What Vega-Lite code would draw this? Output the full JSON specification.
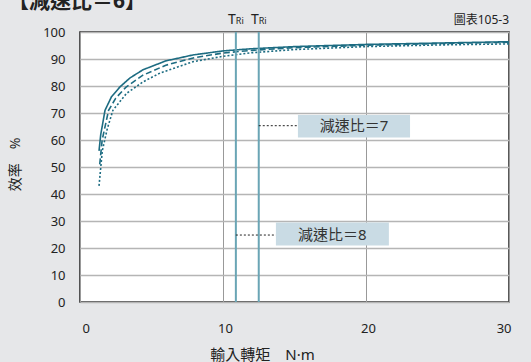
{
  "$schema": "https://vega.github.io/schema/vega-lite/v6.json",
  "width": 429,
  "height": 270,
  "autosize": {"type": "none"},
  "padding": {"left": 80, "top": 32, "right": 22, "bottom": 60},
  "background": "#e6e7e9",
  "config": {
    "font": "Noto Sans, Noto Sans CJK TC",
    "view": {"fill": "white", "stroke": "#222", "strokeWidth": 1.5},
    "axis": {"labelFont": "Noto Sans, Noto Sans CJK TC", "titleFont": "Noto Sans, Noto Sans CJK TC", "labelColor": "#222", "titleColor": "#222", "domain": false, "ticks": false, "labelOverlap": false},
    "axisY": {"grid": true, "gridColor": "#b5b5b5", "gridWidth": 1.5, "labelPadding": 15, "labelFontSize": 13},
    "axisX": {"grid": true, "gridColor": "#999", "gridWidth": 1, "labelPadding": 20, "labelFontSize": 13, "labelOffset": 2}
  },
  "datasets": {
    "curves": [
      {"x": 1.33, "y": 56, "s": "a"}, {"x": 1.45, "y": 62, "s": "a"}, {"x": 1.75, "y": 71, "s": "a"}, {"x": 2.2, "y": 76, "s": "a"}, {"x": 2.8, "y": 79.7, "s": "a"}, {"x": 3.5, "y": 83, "s": "a"}, {"x": 4.4, "y": 86, "s": "a"}, {"x": 6, "y": 89.3, "s": "a"}, {"x": 7.9, "y": 91.5, "s": "a"}, {"x": 10, "y": 93, "s": "a"}, {"x": 12, "y": 93.8, "s": "a"}, {"x": 15, "y": 94.6, "s": "a"}, {"x": 20, "y": 95.4, "s": "a"}, {"x": 25, "y": 95.9, "s": "a"}, {"x": 30, "y": 96.4, "s": "a"},
      {"x": 1.38, "y": 51, "s": "b"}, {"x": 1.55, "y": 60, "s": "b"}, {"x": 2.0, "y": 71, "s": "b"}, {"x": 2.5, "y": 75.5, "s": "b"}, {"x": 3.2, "y": 79.5, "s": "b"}, {"x": 4.4, "y": 84, "s": "b"}, {"x": 6, "y": 87.7, "s": "b"}, {"x": 8, "y": 90.5, "s": "b"}, {"x": 10, "y": 92.2, "s": "b"}, {"x": 12, "y": 93.2, "s": "b"}, {"x": 15, "y": 94.2, "s": "b"}, {"x": 20, "y": 95.1, "s": "b"}, {"x": 25, "y": 95.7, "s": "b"}, {"x": 30, "y": 96.2, "s": "b"},
      {"x": 1.33, "y": 43, "s": "c"}, {"x": 1.56, "y": 56, "s": "c"}, {"x": 1.9, "y": 64, "s": "c"}, {"x": 2.3, "y": 71, "s": "c"}, {"x": 3.26, "y": 77.3, "s": "c"}, {"x": 4.4, "y": 81.5, "s": "c"}, {"x": 5.6, "y": 84.8, "s": "c"}, {"x": 7.9, "y": 89, "s": "c"}, {"x": 10, "y": 91, "s": "c"}, {"x": 12, "y": 92.3, "s": "c"}, {"x": 15, "y": 93.5, "s": "c"}, {"x": 20, "y": 94.6, "s": "c"}, {"x": 25, "y": 95.2, "s": "c"}, {"x": 30, "y": 95.6, "s": "c"}
    ],
    "vlines": [{"x": 10.9}, {"x": 12.5}],
    "boxes": [
      {"x1": 15.24, "x2": 23.08, "y1": 60.9, "y2": 69.3, "lx1": 12.5, "ly": 65.3, "tx": 19.16, "label": "減速比＝7"},
      {"x1": 13.7, "x2": 21.6, "y1": 20.9, "y2": 29.4, "lx1": 10.9, "ly": 24.8, "tx": 17.65, "label": "減速比＝8"}
    ]
  },
  "layer": [
    {
      "data": {"name": "curves"},
      "mark": {"type": "line", "color": "#1d6c82", "strokeWidth": 1.6},
      "encoding": {
        "x": {"field": "x", "type": "quantitative", "scale": {"domain": [0, 30], "nice": false}, "axis": {"values": [0, 10, 20, 30], "title": "輸入轉矩　N·m", "titleFontSize": 15, "titleFontWeight": "normal", "titleX": 182, "titleY": 52, "titleBaseline": "middle", "titleAlign": "center"}},
        "y": {"field": "y", "type": "quantitative", "scale": {"domain": [0, 100], "nice": false}, "axis": {"values": [0, 10, 20, 30, 40, 50, 60, 70, 80, 90, 100], "title": "效率　%", "titleFontSize": 14, "titleFontWeight": "normal", "titleX": -65, "titleY": 132, "titleAngle": -90, "titleBaseline": "middle", "titleAlign": "center"}},
        "strokeDash": {"field": "s", "type": "nominal", "scale": {"domain": ["a", "b", "c"], "range": [[1, 0], [6, 3], [2, 2]]}, "legend": null},
        "detail": {"field": "s"}
      }
    },
    {
      "data": {"name": "vlines"},
      "mark": {"type": "rule", "color": "#6aa5b5", "strokeWidth": 2},
      "encoding": {"x": {"field": "x", "type": "quantitative", "axis": {"values": [0, 10, 20, 30], "title": "輸入轉矩　N·m", "titleFontSize": 15, "titleFontWeight": "normal", "titleX": 182, "titleY": 52, "titleBaseline": "middle", "titleAlign": "center"}}}
    },
    {
      "data": {"name": "vlines"},
      "mark": {"type": "text", "text": "T", "fontSize": 14, "align": "right", "baseline": "alphabetic", "dx": 0, "dy": -8, "color": "#222"},
      "encoding": {"x": {"field": "x", "type": "quantitative", "axis": {"values": [0, 10, 20, 30], "title": "輸入轉矩　N·m", "titleFontSize": 15, "titleFontWeight": "normal", "titleX": 182, "titleY": 52, "titleBaseline": "middle", "titleAlign": "center"}}, "y": {"value": 0}}
    },
    {
      "data": {"name": "vlines"},
      "mark": {"type": "text", "text": "Ri", "fontSize": 9, "align": "left", "baseline": "alphabetic", "dx": 0, "dy": -8, "color": "#222"},
      "encoding": {"x": {"field": "x", "type": "quantitative", "axis": {"values": [0, 10, 20, 30], "title": "輸入轉矩　N·m", "titleFontSize": 15, "titleFontWeight": "normal", "titleX": 182, "titleY": 52, "titleBaseline": "middle", "titleAlign": "center"}}, "y": {"value": 0}}
    },
    {
      "data": {"values": [{"t": "圖表105-3"}]},
      "mark": {"type": "text", "fontSize": 12, "align": "right", "baseline": "alphabetic", "dy": -8, "color": "#222"},
      "encoding": {"text": {"field": "t"}, "x": {"value": 429}, "y": {"value": 0}}
    },
    {
      "data": {"values": [{"t": "【減速比＝6】"}]},
      "mark": {"type": "text", "fontSize": 21, "fontWeight": "bold", "align": "left", "baseline": "bottom", "dx": -72, "dy": -20, "color": "#222"},
      "encoding": {"text": {"field": "t"}, "x": {"value": 0}, "y": {"value": 0}}
    },
    {
      "data": {"name": "boxes"},
      "mark": {"type": "rule", "color": "#222", "strokeWidth": 1, "strokeDash": [2, 2]},
      "encoding": {
        "x": {"field": "lx1", "type": "quantitative", "axis": {"values": [0, 10, 20, 30], "title": "輸入轉矩　N·m", "titleFontSize": 15, "titleFontWeight": "normal", "titleX": 182, "titleY": 52, "titleBaseline": "middle", "titleAlign": "center"}},
        "x2": {"field": "x1"},
        "y": {"field": "ly", "type": "quantitative", "axis": {"values": [0, 10, 20, 30, 40, 50, 60, 70, 80, 90, 100], "title": "效率　%", "titleFontSize": 14, "titleFontWeight": "normal", "titleX": -65, "titleY": 132, "titleAngle": -90, "titleBaseline": "middle", "titleAlign": "center"}}
      }
    },
    {
      "data": {"name": "boxes"},
      "mark": {"type": "rect", "color": "#c9dbe4"},
      "encoding": {
        "x": {"field": "x1", "type": "quantitative", "axis": {"values": [0, 10, 20, 30], "title": "輸入轉矩　N·m", "titleFontSize": 15, "titleFontWeight": "normal", "titleX": 182, "titleY": 52, "titleBaseline": "middle", "titleAlign": "center"}},
        "x2": {"field": "x2"},
        "y": {"field": "y1", "type": "quantitative", "axis": {"values": [0, 10, 20, 30, 40, 50, 60, 70, 80, 90, 100], "title": "效率　%", "titleFontSize": 14, "titleFontWeight": "normal", "titleX": -65, "titleY": 132, "titleAngle": -90, "titleBaseline": "middle", "titleAlign": "center"}},
        "y2": {"field": "y2"}
      }
    },
    {
      "data": {"name": "boxes"},
      "mark": {"type": "text", "fontSize": 15, "color": "#333", "baseline": "middle"},
      "encoding": {
        "x": {"field": "tx", "type": "quantitative", "axis": {"values": [0, 10, 20, 30], "title": "輸入轉矩　N·m", "titleFontSize": 15, "titleFontWeight": "normal", "titleX": 182, "titleY": 52, "titleBaseline": "middle", "titleAlign": "center"}},
        "y": {"field": "ly", "type": "quantitative", "axis": {"values": [0, 10, 20, 30, 40, 50, 60, 70, 80, 90, 100], "title": "效率　%", "titleFontSize": 14, "titleFontWeight": "normal", "titleX": -65, "titleY": 132, "titleAngle": -90, "titleBaseline": "middle", "titleAlign": "center"}},
        "text": {"field": "label"}
      }
    }
  ]
}
